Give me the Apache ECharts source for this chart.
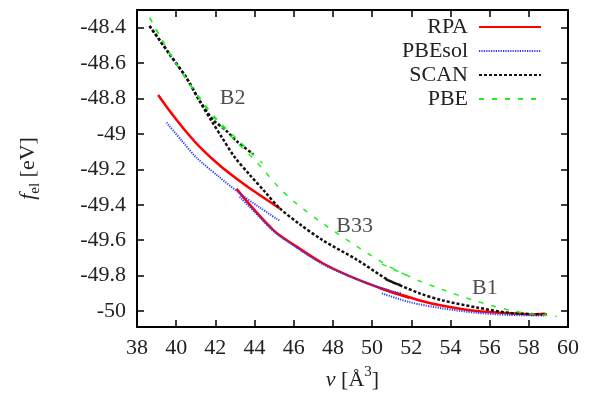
<!DOCTYPE html>
<html>
<head>
<meta charset="utf-8">
<script src="https://cdn.jsdelivr.net/npm/echarts@6/dist/echarts.min.js"></script>
<style>html,body{margin:0;padding:0;background:#fff}#c{width:605px;height:400px}</style>
</head>
<body>
<div id="c"></div>
<script>
// ---- data (v in Å^3, f_el in eV) ----
const xTicks = [38, 40, 42, 44, 46, 48, 50, 52, 54, 56, 58, 60];
const yTicks = [-50, -49.8, -49.6, -49.4, -49.2, -49, -48.8, -48.6, -48.4];
const yTickLabels = ['-50', '-49.8', '-49.6', '-49.4', '-49.2', '-49', '-48.8', '-48.6', '-48.4'];

const rpaB2 = [[39.08,-48.78],[39.68,-48.872],[40.53,-48.99],[41.38,-49.093],[42.3,-49.185],[43.24,-49.265],[44.26,-49.345],[45.28,-49.42]];
const rpaB33 = [[43.08,-49.31],[44.0,-49.43],[45.03,-49.55],[45.79,-49.61],[47.48,-49.73],[49.22,-49.82],[50.9,-49.89],[51.9,-49.925]];
const rpaB1 = [[50.4,-49.87],[52.43,-49.94],[53.61,-49.97],[55.35,-50.0],[57.03,-50.012],[58.0,-50.018],[58.85,-50.015]];

const pbesolB2 = [[39.51,-48.936],[40.3,-49.04],[41.04,-49.134],[42.22,-49.245],[43.24,-49.335],[44.26,-49.415],[45.28,-49.49]];
const pbesolB33 = [[43.24,-49.355],[44.0,-49.44],[45.03,-49.555],[45.79,-49.615],[47.48,-49.735],[49.22,-49.82],[50.9,-49.885],[51.5,-49.9]];
const pbesolB1 = [[50.5,-49.9],[51.93,-49.95],[53.61,-49.985],[55.35,-50.01],[57.03,-50.022],[58.8,-50.025]];

const scanB2 = [[38.64,-48.39],[39.66,-48.549],[40.53,-48.684],[41.19,-48.81],[41.89,-48.92],[42.57,-48.983],[43.08,-49.04],[43.94,-49.115]];
const scanB33 = [[38.64,-48.39],[39.66,-48.549],[40.53,-48.684],[41.19,-48.814],[41.81,-48.927],[42.32,-49.017],[42.98,-49.13],[43.75,-49.23],[44.52,-49.325],[45.28,-49.419],[46.3,-49.509],[47.48,-49.6],[49.22,-49.71],[50.9,-49.83],[51.5,-49.855]];
const scanB1 = [[50.7,-49.82],[52.43,-49.9],[53.61,-49.94],[55.35,-49.98],[57.03,-50.01],[58.92,-50.02]];

const pbeB2 = [[38.65,-48.344],[39.96,-48.596],[41.38,-48.822],[42.15,-48.925],[43.08,-49.025],[43.94,-49.12],[44.4,-49.165]];
const pbeB33 = [[38.65,-48.344],[39.3,-48.475],[39.96,-48.598],[40.65,-48.714],[41.38,-48.829],[42.15,-48.936],[43.08,-49.045],[43.94,-49.14],[44.36,-49.19],[45.18,-49.295],[46.05,-49.385],[47.48,-49.505],[49.22,-49.635],[50.9,-49.75],[51.8,-49.8]];
const pbeB1 = [[50.5,-49.735],[52.43,-49.83],[53.61,-49.88],[55.35,-49.945],[57.03,-49.995],[58.05,-50.015],[59.43,-50.03]];

const phaseLabels = ['B2', 'B33', 'B1'];
const phaseLabelPos = [[42.88,-48.8],[49.11,-49.52],[55.76,-49.87]];

const methodNames = ['RPA', 'PBEsol', 'SCAN', 'PBE'];

// ---- styles ----
const FONT = "'Liberation Serif', 'Times New Roman', serif";
const TXT = '#222';
const styles = {
  RPA:    {color:'#ff0000', width:2.5, type:'solid'},
  PBEsol: {color:'#2a3cff', width:2,   type:[1.2,1.2]},
  SCAN:   {color:'#111111', width:2.5, type:[3,2]},
  PBE:    {color:'#22ee22', width:1.5, type:[5,8]}
};
function lineSeries(name, data) {
  const s = styles[name];
  return {
    type:'line', name, data, symbol:'none', smooth:0.3,
    lineStyle:{color:s.color, width:s.width, type:s.type},
    itemStyle:{color:s.color}, z:2
  };
}
const series = [
  lineSeries('RPA', rpaB2), lineSeries('RPA', rpaB33), lineSeries('RPA', rpaB1),
  lineSeries('PBEsol', pbesolB2), lineSeries('PBEsol', pbesolB33), lineSeries('PBEsol', pbesolB1),
  lineSeries('SCAN', scanB2), lineSeries('SCAN', scanB33), lineSeries('SCAN', scanB1),
  lineSeries('PBE', pbeB2), lineSeries('PBE', pbeB33), lineSeries('PBE', pbeB1),
  {
    type:'scatter', name:'phases', symbolSize:0, silent:true,
    data: phaseLabelPos.map((p,i)=>({value:p, name:phaseLabels[i]})),
    label:{show:true, position:'inside', formatter:p=>p.name, fontFamily:FONT, fontSize:22, color:TXT}
  }
];

const axisLine = {show:true, onZero:false, lineStyle:{color:'#000', width:2}};
const chart = echarts.init(document.getElementById('c'), null, {renderer:'canvas'});
chart.setOption({
  animation:false,
  backgroundColor:'#fff',
  grid:{left:137, right:37, top:10, bottom:73, containLabel:false},
  legend:{
    data: methodNames, orient:'vertical', align:'right', right:58, top:11,
    itemWidth:62, itemHeight:14, itemGap:2,
    itemStyle:{opacity:0},
    textStyle:{fontFamily:FONT, fontSize:22, color:TXT, lineHeight:21, padding:[0,6,0,0]},
    selectedMode:false
  },
  xAxis:[
    {type:'value', min:38, max:60, interval:2, position:'bottom',
     name:'{i|v} [Å{sup|3}]', nameLocation:'middle', nameGap:38,
     nameTextStyle:{fontFamily:FONT, fontSize:22, color:TXT,
       rich:{i:{fontFamily:FONT, fontSize:22, fontStyle:'italic', color:TXT, lineHeight:30},
             sup:{fontFamily:FONT, fontSize:15, color:TXT, lineHeight:14, verticalAlign:'top'}}},
     axisLine, splitLine:{show:false},
     axisTick:{show:true, inside:true, length:7, lineStyle:{color:'#000', width:1.5}},
     axisLabel:{fontFamily:FONT, fontSize:22, color:TXT, margin:10, formatter:v=>String(v)}},
    {type:'value', min:38, max:60, interval:2, position:'top',
     axisLine, splitLine:{show:false},
     axisTick:{show:true, inside:true, length:7, lineStyle:{color:'#000', width:1.5}},
     axisLabel:{show:false}}
  ],
  yAxis:[
    {type:'value', min:-50.09, max:-48.3, position:'left',
     name:'{i|f}{s|el} [eV]', nameLocation:'middle', nameGap:94, nameRotate:90,
     nameTextStyle:{fontFamily:FONT, fontSize:22, color:TXT,
       rich:{i:{fontFamily:FONT, fontSize:22, fontStyle:'italic', color:TXT, lineHeight:30},
             s:{fontFamily:FONT, fontSize:15, color:TXT, lineHeight:18, verticalAlign:'bottom'}}},
     axisLine, splitLine:{show:false},
     axisTick:{show:true, inside:true, length:7, customValues:yTicks, lineStyle:{color:'#000', width:1.5}},
     axisLabel:{fontFamily:FONT, fontSize:22, color:TXT, margin:11, customValues:yTicks,
       formatter:v=>{const i=yTicks.findIndex(t=>Math.abs(t-v)<1e-6); return i>=0?yTickLabels[i]:'';}}},
    {type:'value', min:-50.09, max:-48.3, position:'right',
     axisLine, splitLine:{show:false},
     axisTick:{show:true, inside:true, length:7, customValues:yTicks, lineStyle:{color:'#000', width:1.5}},
     axisLabel:{show:false}}
  ],
  series
});
</script>
</body>
</html>
